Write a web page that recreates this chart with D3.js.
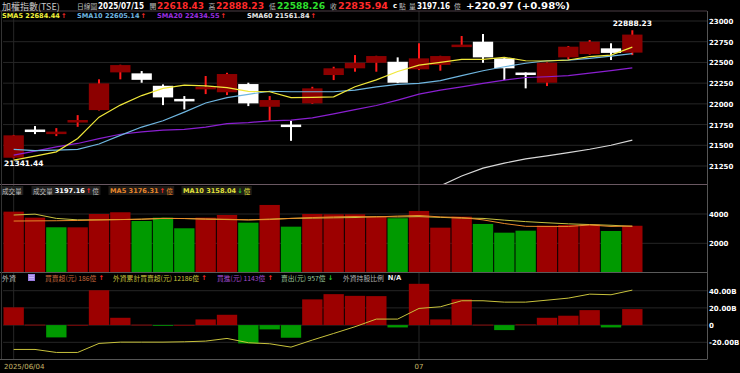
<!DOCTYPE html>
<html><head><meta charset="utf-8">
<script src="https://cdn.jsdelivr.net/npm/d3@7"></script>
<style>html,body{margin:0;padding:0;background:#000;overflow:hidden}</style>
</head><body><svg id="c" width="740" height="373"></svg>
<script>
// ---------- DATA ----------
const dates = ["2025/06/04","2025/06/05","2025/06/06","2025/06/09","2025/06/10","2025/06/11","2025/06/12","2025/06/13",
  "2025/06/16","2025/06/17","2025/06/18","2025/06/19","2025/06/20","2025/06/23","2025/06/24","2025/06/25","2025/06/26",
  "2025/06/27","2025/06/30","2025/07/01","2025/07/02","2025/07/03","2025/07/04","2025/07/07","2025/07/08","2025/07/09",
  "2025/07/10","2025/07/11","2025/07/14","2025/07/15"];
const openP  = [21350,21690,21640,21780,21925,22380,22368,22218,22060,22175,22140,22239,21965,21750,22006,22348,22429,22496,22508,22417,22470,22705,22750,22549,22378,22255,22561,22601,22670,22618.43];
const highP  = [21625,21732,21707,21864,22296,22472,22396,22235,22094,22336,22375,22255,22094,21796,22206,22448,22589,22580,22561,22731,22580,22819,22843,22555,22380,22500,22698,22770,22731,22888.23];
const lowP   = [21341.44,21635,21611,21723,21920,22296,22255,21985,21933,22118,22106,21973,21796,21554,22000,22287,22388,22388,22250,22408,22400,22698,22496,22287,22187,22215,22537,22595,22529,22588.26];
const closeP = [21620,21675,21665,21805,22247,22468,22290,22078,22050,22206,22360,22006,22046,21740,22187,22429,22496,22577,22255,22549,22577,22715,22561,22429,22372,22496,22690,22750,22614.97,22835.94];
const sma5  = [21321,21370,21421,21583,21840,21985,22100,22187,22227,22218,22195,22150,22146,22075,22078,22085,22206,22290,22390,22468,22500,22537,22537,22561,22520,22517,22529,22569,22589,22684.44];
const sma10 = [21450,21435,21442,21450,21515,21620,21720,21796,21900,22010,22075,22115,22152,22146,22146,22146,22166,22206,22235,22247,22280,22340,22400,22448,22490,22520,22529,22549,22577,22605.14];
const sma20 = [21381,21430,21480,21522,21580,21633,21663,21683,21692,21720,21762,21774,21795,21804,21830,21880,21930,21980,22046,22118,22166,22206,22247,22287,22318,22327,22340,22370,22400,22434.55];
const sma60 = [null,null,null,null,null,null,null,null,null,null,null,null,null,null,null,null,null,null,null,20900,21010,21130,21225,21285,21335,21372,21412,21452,21500,21561.84];
const volume = [4160,3750,3094,3090,4002,4118,3524,3750,3025,3750,3934,3408,4617,3135,4002,3982,3982,3818,3709,4207,3067,3818,3319,2725,2862,3203,3251,3299,2841,3197.16];
const volMA5  = [3520,3530,3540,3560,3600,3620,3650,3700,3690,3660,3640,3600,3620,3700,3760,3800,3830,3800,3860,3900,3800,3760,3600,3350,3160,3150,3150,3250,3150,3176.31];
const volMA10 = [3930,3990,3700,3600,3600,3620,3640,3700,3690,3650,3620,3600,3650,3700,3720,3740,3760,3820,3800,3820,3770,3720,3700,3580,3480,3400,3330,3280,3230,3158.04];
const foreignNet = [20.6,0.5,-14.3,0.3,40.5,8.5,0.5,-0.5,0.3,6.6,12,-21.3,-5,-14.7,29.9,36,34,33.7,-2.7,48,6.6,30,0.5,-5.8,0.8,8.5,10.9,17.4,-2.7,18.6];
const foreignCum = [-28.3,-28.3,-31.8,-31.8,-21.3,-19.8,-19.8,-19.8,-19.4,-18.6,-15.5,-20.5,-21.7,-25.6,-17.4,-9.7,-1.9,7,7,19.4,21.3,28.3,28.3,26.7,26.7,29,31.4,36,35.3,40.7];
const priceTicks = [21250,21500,21750,22000,22250,22500,22750,23000];
const volTicks = [2000,4000];
const foreignTicks = [-20,0,20,40];
const foreignTickLabels = ["-20.00B","0","20.00B","40.00B"];
const dateLabelIdx = [0,19];
const dateLabels = ["2025/06/04","07"];

// ---------- LAYOUT ----------
const svg = d3.select("#c");
svg.append("rect").attr("width",740).attr("height",373).attr("fill","#000");
const L = 3, R = 707, NSLOT = 33;
const x = d3.scaleBand().domain(d3.range(NSLOT)).range([L,R]).padding(0);
const bw = x.bandwidth();
const cx = i => x(i) + bw/2;
const yP = d3.scaleLinear().domain([21250,23000]).range([166,21]);
const yV = d3.scaleLinear().domain([0,4000]).range([272.6,214]);
const yF = d3.scaleLinear().domain([-20,40]).range([342.3,290.7]);
const P = {top:11, bot:184}, V = {top:184, bot:272}, F = {top:272, bot:359};

const defs = svg.append("defs");
[["cp",P],["cv",V],["cf",F]].forEach(([id,p])=>{
  defs.append("clipPath").attr("id",id).append("rect").attr("x",L).attr("y",p.top).attr("width",R-L).attr("height",p.bot-p.top);
});
const NUM = "'DejaVu Sans', Verdana, sans-serif";
const CJK = "'Noto Sans CJK TC', 'Noto Sans CJK SC', sans-serif";
const GRID = "#262626";

// grid lines
const grid = svg.append("g");
grid.selectAll(".gp").data(priceTicks).join("line").attr("x1",L).attr("x2",R).attr("y1",d=>yP(d)).attr("y2",d=>yP(d)).attr("stroke",GRID);
grid.selectAll(".gv").data(volTicks).join("line").attr("x1",L).attr("x2",R).attr("y1",d=>yV(d)).attr("y2",d=>yV(d)).attr("stroke",GRID);
grid.selectAll(".gf").data(foreignTicks).join("line").attr("x1",L).attr("x2",R).attr("y1",d=>yF(d)).attr("y2",d=>yF(d)).attr("stroke",GRID);
grid.selectAll(".gd").data(dateLabelIdx).join("line").attr("x1",d=>cx(d)).attr("x2",d=>cx(d)).attr("y1",P.top).attr("y2",F.bot).attr("stroke",GRID);

// ---------- PRICE PANEL ----------
const gp = svg.append("g").attr("clip-path","url(#cp)");
const idx = d3.range(dates.length);
const up = i => closeP[i] >= openP[i];
gp.selectAll(".wick").data(idx).join("rect")
  .attr("x",i=>cx(i)-1).attr("width",2)
  .attr("y",i=>yP(highP[i])).attr("height",i=>Math.max(1,yP(lowP[i])-yP(highP[i])))
  .attr("fill",i=>up(i)?"#ff1a1a":"#ffffff");
gp.selectAll(".body").data(idx).join("rect")
  .attr("x",i=>x(i)+0.5).attr("width",bw-1)
  .attr("y",i=>yP(Math.max(openP[i],closeP[i])))
  .attr("height",i=>Math.max(2.5,Math.abs(yP(openP[i])-yP(closeP[i]))))
  .attr("fill",i=>up(i)?"#8c0000":"#ffffff");
const lineOf = (arr,ys)=>d3.line().defined(i=>arr[i]!=null).x(i=>cx(i)).y(i=>ys(arr[i]))(idx);
[[sma60,"#d8d8d8"],[sma20,"#8a1fd0"],[sma10,"#6fb6e0"],[sma5,"#f0e83a"]].forEach(([a,c])=>{
  gp.append("path").attr("d",lineOf(a,yP)).attr("fill","none").attr("stroke",c).attr("stroke-width",1.2);
});
svg.append("text").attr("x",cx(29)).attr("y",yP(highP[29])-4).attr("text-anchor","middle")
  .attr("font-family",NUM).attr("font-weight","bold").attr("font-size",7.5).attr("fill","#fff").text(highP[29].toFixed(2));
svg.append("text").attr("x",x(0)+1).attr("y",yP(lowP[0])+8).attr("text-anchor","start")
  .attr("font-family",NUM).attr("font-weight","bold").attr("font-size",7.5).attr("fill","#fff").text(lowP[0].toFixed(2));

// ---------- VOLUME PANEL ----------
const gv = svg.append("g").attr("clip-path","url(#cv)");
const volUp = i => i===0 ? closeP[0]>=openP[0] : closeP[i]>=closeP[i-1];
gv.selectAll(".vb").data(idx).join("rect")
  .attr("x",i=>x(i)+0.5).attr("width",bw-1)
  .attr("y",i=>yV(volume[i])).attr("height",i=>yV(0)-yV(volume[i]))
  .attr("fill",i=>volUp(i)?"#9c0000":"#009a00");
gv.append("path").attr("d",lineOf(volMA10,yV)).attr("fill","none").attr("stroke","#c8c040").attr("stroke-width",1);
gv.append("path").attr("d",lineOf(volMA5,yV)).attr("fill","none").attr("stroke","#e88a2a").attr("stroke-width",1);

// ---------- FOREIGN PANEL ----------
const gf = svg.append("g").attr("clip-path","url(#cf)");
gf.selectAll(".fb").data(idx).join("rect")
  .attr("x",i=>x(i)+0.5).attr("width",bw-1)
  .attr("y",i=>yF(Math.max(0,foreignNet[i])))
  .attr("height",i=>Math.max(0.8,Math.abs(yF(foreignNet[i])-yF(0))))
  .attr("fill",i=>foreignNet[i]>=0?"#9c0000":"#009a00");
gf.append("path").attr("d",lineOf(foreignCum,yF)).attr("fill","none").attr("stroke","#c8c23c").attr("stroke-width",1);

// ---------- FRAMES ----------
const fr = svg.append("g").attr("stroke","#4a3c44").attr("stroke-width",1);
fr.append("line").attr("x1",0).attr("x2",R).attr("y1",P.top).attr("y2",P.top);
fr.append("line").attr("x1",0).attr("x2",R).attr("y1",P.bot+0.5).attr("y2",P.bot+0.5).attr("stroke","#6a5862");
fr.append("line").attr("x1",0).attr("x2",R).attr("y1",V.bot+0.5).attr("y2",V.bot+0.5).attr("stroke","#5a5a5a");
fr.append("line").attr("x1",0).attr("x2",R).attr("y1",F.bot+0.5).attr("y2",F.bot+0.5).attr("stroke","#555");
fr.append("line").attr("x1",R+0.5).attr("x2",R+0.5).attr("y1",P.top).attr("y2",F.bot+0.5).attr("stroke","#555");
fr.append("line").attr("x1",1.5).attr("x2",1.5).attr("y1",P.top).attr("y2",F.bot).attr("stroke","#333");

// ---------- AXES ----------
function styleAxis(g){
  g.select(".domain").remove();
  g.selectAll(".tick line").remove();
  g.selectAll("text").attr("font-family",NUM).attr("font-weight","bold").attr("font-size",7).attr("fill","#fff").attr("x",2).attr("dy","0.35em");
}
svg.append("g").attr("transform",`translate(${R},0)`).call(d3.axisRight(yP).tickValues(priceTicks).tickFormat(d3.format("d")).tickSize(0)).call(styleAxis);
svg.append("g").attr("transform",`translate(${R},0)`).call(d3.axisRight(yV).tickValues(volTicks).tickFormat(d3.format("d")).tickSize(0)).call(styleAxis);
svg.append("g").attr("transform",`translate(${R},0)`).call(d3.axisRight(yF).tickValues(foreignTicks).tickFormat((d,i)=>foreignTickLabels[i]).tickSize(0)).call(styleAxis);
const xa = svg.append("g").attr("transform",`translate(0,${F.bot})`)
  .call(d3.axisBottom(x).tickValues(dateLabelIdx).tickFormat((d,i)=>dateLabels[i]).tickSize(0));
xa.select(".domain").remove();
xa.selectAll("text").attr("font-family",NUM).attr("font-size",7).attr("fill","#c8b868").attr("y",5)
  .attr("text-anchor",(d,i)=>i===0?"start":"middle").attr("x",(d,i)=>i===0?(L-cx(0)+1):0);

// ---------- LEGENDS ----------
const RED="#ff2a2a", GRN="#2ad02a";
function t(x,y,s,fill,opt={}){
  const el = svg.append("text").attr("x",x).attr("y",y).attr("dominant-baseline","central")
    .attr("font-family",opt.cjk?CJK:NUM).attr("font-weight",opt.bold?"bold":"normal")
    .attr("font-size",opt.size||8).attr("fill",fill).text(s);
  if(opt.len){ el.attr("textLength",opt.len).attr("lengthAdjust","spacingAndGlyphs"); }
  return el;
}
function seq(x0,y,pieces,bg){
  let xx = x0, start = x0;
  pieces.forEach(([s,fill,opt,gap])=>{
    xx += (gap||0);
    const el = t(xx,y,s,fill,opt);
    xx += opt.len ? opt.len : el.node().getComputedTextLength();
  });
  if(bg){ svg.insert("rect","text").attr("x",start-1.5).attr("y",y-4.5).attr("width",xx-start+3).attr("height",9).attr("fill",bg); }
  return xx;
}
// header row 1
t(2,6,"加權指數(TSE)","#c8c8c8",{cjk:1,size:9});
t(77,6,"日線圖","#bdbdbd",{cjk:1,size:6.8});
t(98,6,"2025/07/15","#fff",{bold:1,size:8.3,len:46});
t(149.5,6,"開","#bdbdbd",{cjk:1,size:6.8});
t(157,6,"22618.43","#ff2a2a",{bold:1,size:8.6,len:47});
t(208.5,6,"高","#bdbdbd",{cjk:1,size:6.8});
t(216,6,"22888.23","#ff2a2a",{bold:1,size:8.6,len:48});
t(269,6,"低","#bdbdbd",{cjk:1,size:6.8});
t(277,6,"22588.26","#2ee02e",{bold:1,size:8.6,len:48});
t(330,6,"收","#bdbdbd",{cjk:1,size:6.8});
t(338,6,"22835.94","#ff2a2a",{bold:1,size:8.6,len:50});
t(393,6,"c","#fff",{bold:1,size:7});
t(399,6,"點","#bdbdbd",{cjk:1,size:6.8});
t(409,6,"量","#bdbdbd",{cjk:1,size:6.8});
t(417,6,"3197.16","#fff",{bold:1,size:8.3,len:33});
t(454,6,"億","#bdbdbd",{cjk:1,size:6.8});
t(466,6,"+220.97 (+0.98%)","#fff",{bold:1,size:8.8,len:104});
// row 2: SMAs
const smaOpt = {bold:1,size:6.6}, arOpt = {bold:1,size:6.6};
seq(2,16,[["SMA5 22684.44","#f0f03a",smaOpt],["↑",RED,arOpt,1]]);
seq(77,16,[["SMA10 22605.14","#6fb6e0",smaOpt],["↑",RED,arOpt,1]]);
seq(157,16,[["SMA20 22434.55","#9a2ee0",smaOpt],["↑",RED,arOpt,1]]);
seq(247,16,[["SMA60 21561.84","#e8e8e8",smaOpt],["↑",RED,arOpt,1]]);
// volume legend
const vs = {bold:1,size:6.6}, vc = {cjk:1,size:6.6};
seq(2,190.5,[["成交量","#bdbdbd",vc]],"#1e1e1e");
seq(33,190.5,[["成交量","#bdbdbd",vc],["3197.16","#fff",vs,2],["↑",RED,vs,1],["億","#bdbdbd",vc,1]],"#1e1e1e");
seq(110,190.5,[["MA5 3176.31","#e8862a",vs],["↑",RED,vs,1],["億","#e8862a",vc,1]],"#1e1a16");
seq(183,190.5,[["MA10 3158.04","#e0e03a",vs],["↓",GRN,vs,1],["億","#e0e03a",vc,1]],"#1c1c14");
// foreign legend
t(2,277.5,"外資","#bdbdbd",{cjk:1,size:7});
svg.append("rect").attr("x",28).attr("y",274).attr("width",7).attr("height",7).attr("fill","#9a7ae0");
[275.8,277.5,279.2].forEach(yy=>svg.append("line").attr("x1",29).attr("x2",34).attr("y1",yy).attr("y2",yy).attr("stroke","#e8e0ff").attr("stroke-width",0.6));
const fc = {cjk:1,size:6.8}, fa = {bold:1,size:6.6};
seq(45,277.5,[["買賣超(元) 186億","#c8683c",fc],["↑",RED,fa,2]]);
seq(113,277.5,[["外資累計買賣超(元) 12186億","#c8c23c",fc],["↑",RED,fa,2]]);
seq(217,277.5,[["買進(元) 1143億","#a24ad0",fc],["↑",RED,fa,2]]);
seq(281,277.5,[["賣出(元) 957億","#9cc89c",fc],["↓",GRN,fa,2]]);
seq(343,277.5,[["外資持股比例","#b4b4b4",fc],["N/A","#e8e8e8",{bold:1,size:6.8},4]]);
</script></body></html>
